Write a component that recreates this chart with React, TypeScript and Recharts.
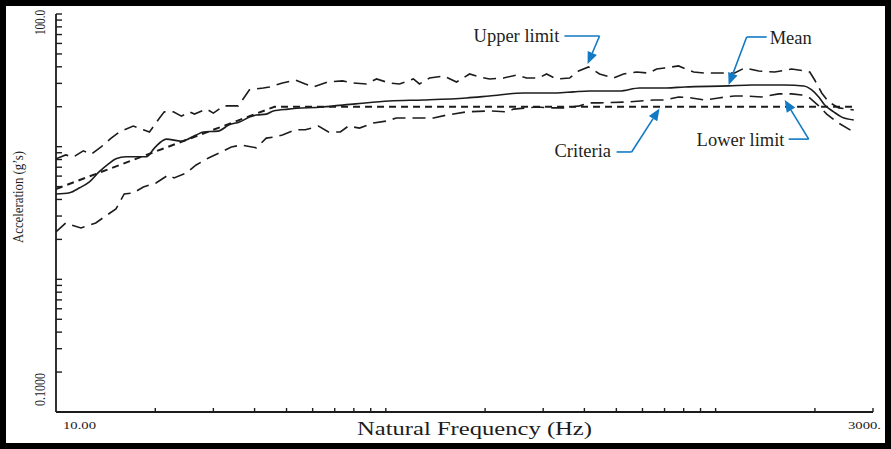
import { Line, LineChart, ReferenceDot, ReferenceLine, XAxis, YAxis } from 'recharts'

type Pt = { f: number; g: number }
const pts = (rows: number[][]): Pt[] => rows.map(([f, g]) => ({ f, g }))

// frequency (Hz), acceleration (g's)
const MEAN = pts([
  [10, 4.4], [11, 4.5], [11.8, 4.9], [12.6, 5.4], [13.5, 6.45], [14.4, 7.4], [15.2, 8.1],
  [16.3, 8.4], [18.8, 8.4], [19.9, 9.8], [21.6, 11.4], [24, 11.0], [26.6, 12.25], [28, 12.9],
  [31, 13.1], [33.5, 14.6], [36, 15.35], [38.6, 16.7], [40.5, 17.3], [43.4, 17.6], [45.6, 18.6],
  [50.6, 19.2], [64.2, 19.9], [80.9, 21.0], [102.5, 22.1], [130, 22.5], [175.6, 23.3],
  [206, 24.1], [262, 25.4], [329, 25.4], [371, 25.9], [415, 26.3], [511, 26.3], [588, 27.7],
  [710, 27.7], [805, 28.2], [1095, 28.7], [1286, 29.2], [1620, 29.2], [1849, 28.7],
  [1956, 26.8], [2054, 23.7], [2142, 20.6], [2280, 18.3], [2412, 16.7], [2623, 15.9],
])

const UPPER = pts([
  [10, 8.1], [10.7, 8.66], [11.3, 8.36], [12.1, 9.3], [12.8, 8.8], [13.7, 9.95], [14.7, 11.6],
  [15.55, 12.9], [17.15, 14.3], [18.4, 13.4], [19.2, 12.9], [20.6, 16.45], [21.3, 18.3],
  [22.7, 18.3], [24, 17.0], [25.4, 18.3], [26.3, 17.6], [28.6, 19.2], [30, 17.9], [32.2, 20.3],
  [35.7, 20.3], [38.6, 26.8], [42.5, 27.7], [44.4, 28.2], [48.6, 30.2], [53.2, 31.8],
  [57, 29.7], [60.3, 28.2], [66.5, 30.7], [73.9, 31.3], [79.2, 30.2], [87.4, 29.7],
  [93.7, 32.4], [102.5, 30.2], [110, 29.7], [121.2, 32.4], [126.5, 29.7], [135.7, 32.9],
  [149.6, 34.1], [163.8, 30.7], [179.4, 35.3], [192.3, 33.5], [206.3, 32.4], [227.4, 32.9],
  [249.1, 34.7], [267.1, 32.9], [290.4, 32.9], [307.1, 35.3], [329.3, 32.4], [360.6, 32.9],
  [384.1, 37.2], [411.8, 39.9], [444.7, 35.3], [490.4, 32.9], [525.8, 35.3], [576, 36.5],
  [626.3, 35.9], [662.3, 38.5], [700, 39.2], [772, 40.6], [857.6, 36.5], [926, 35.9],
  [1021, 35.9], [1142, 35.9], [1225, 39.2], [1351, 37.2], [1510, 36.5], [1701, 38.5],
  [1862, 37.2], [1929, 36.5], [1997, 31.8], [2097, 25.4], [2203, 21.7], [2362, 19.6],
  [2623, 18.9],
])

const LOWER = pts([
  [10, 2.28], [10.7, 2.66], [11.1, 2.57], [11.9, 2.44], [13.2, 2.66], [14, 2.95], [15.2, 3.39],
  [16.1, 4.4], [17.15, 4.48], [18.4, 4.97], [20.1, 5.32], [21.9, 6.12], [22.8, 5.81],
  [24.8, 6.33], [26.6, 7.28], [29, 8.22], [31.3, 8.97], [34, 9.95], [36.5, 10.3], [40.5, 9.8],
  [43.4, 11.6], [45.6, 11.8], [48.6, 12.25], [53.2, 13.4], [57, 13.4], [62.5, 14.3],
  [67, 12.9], [72.8, 12.9], [77, 14.3], [83.2, 13.8], [91.7, 15.1], [100.4, 15.6],
  [107.7, 16.45], [117.9, 16.45], [139.5, 16.45], [152.8, 17.3], [175.6, 18.3], [206.3, 18.6],
  [232.3, 18.3], [243.9, 19.2], [286.4, 19.9], [313.6, 19.6], [345.8, 19.6], [386.8, 20.3],
  [414.7, 21.4], [444.7, 21.4], [537, 21.7], [648.6, 22.5], [700, 22.5], [772, 23.7],
  [845.6, 23.3], [926, 22.5], [1021, 23.3], [1142, 24.1], [1225, 24.1], [1379, 23.7],
  [1553, 25.0], [1701, 25.0], [1824, 24.5], [1929, 23.3], [2054, 20.3], [2172, 17.6],
  [2329, 15.35], [2623, 12.9],
])

const CRITERIA = pts([[10, 4.8], [46, 20], [2620, 20]])

const X_TICKS = [10, 20, 30, 40, 50, 60, 70, 80, 90, 100, 200, 300, 400, 500, 600, 700, 800, 900, 1000, 2000, 3000]
const Y_TICKS = [
  0.1, 0.2, 0.3, 0.4, 0.5, 0.6, 0.7, 0.8, 0.9,
  1, 2, 3, 4, 5, 6, 7, 8, 9,
  10, 20, 30, 40, 50, 60, 70, 80, 90, 100,
]
const X_LABELS = ['10.00', '3000.']
const Y_LABELS = ['0.1000', '100.0']

// callouts: label position, horizontal leader, arrow to the curve (data coords)
const CALLOUTS = [
  { label: 'Upper limit', at: [184.5, 61.5], from: [348, 68.3], elbow: [444.7, 68.3], tip: [409, 42.0] },
  { label: 'Mean', at: [1458, 59.4], from: [1428, 67.1], elbow: [1242, 67.1], tip: [1095, 29.2] },
  { label: 'Criteria', at: [324.7, 8.36], from: [500.9, 9.12], elbow: [556.3, 9.12], tip: [676, 19.4] },
  { label: 'Lower limit', at: [875.6, 10.1], from: [1665, 11.4], elbow: [1915, 11.4], tip: [1620, 22.5] },
]

const INK = '#1c1c1c'
const BLUE = '#1279c3'
const SERIF = '"Liberation Serif", "DejaVu Serif", serif'

function XTick({ x, y, index }: any) {
  const last = index === X_TICKS.length - 1
  return (
    <g>
      {index > 0 && <line x1={x} x2={x} y1={y} y2={y - 4} stroke={INK} strokeWidth={1.4} />}
      {index === 0 && (
        <text x={x + 7} y={y + 17} fontSize={10} fontFamily={SERIF} fill={INK}
          textLength={33} lengthAdjust="spacingAndGlyphs">{X_LABELS[0]}</text>
      )}
      {last && (
        <text x={x + 8} y={y + 17} fontSize={10} fontFamily={SERIF} fill={INK} textAnchor="end"
          textLength={33} lengthAdjust="spacingAndGlyphs">{X_LABELS[1]}</text>
      )}
    </g>
  )
}

function YTick({ x, y, index }: any) {
  const first = index === 0
  const last = index === Y_TICKS.length - 1
  const tx = x - 11
  return (
    <g>
      {index > 0 && <line x1={x} x2={x + 6} y1={y} y2={y} stroke={INK} strokeWidth={1.4} />}
      {first && (
        <text x={tx} y={y - 6} fontSize={15} fontFamily={SERIF} fill={INK}
          transform={`rotate(-90, ${tx}, ${y - 6})`} textLength={33} lengthAdjust="spacingAndGlyphs">
          {Y_LABELS[0]}
        </text>
      )}
      {last && (
        <text x={tx} y={y - 4} fontSize={15} fontFamily={SERIF} fill={INK} textAnchor="end"
          transform={`rotate(-90, ${tx}, ${y - 4})`} textLength={25} lengthAdjust="spacingAndGlyphs">
          {Y_LABELS[1]}
        </text>
      )}
    </g>
  )
}

const ArrowShape = (p: any) => {
  const { x1, y1, x2, y2 } = p
  const a = Math.atan2(y2 - y1, x2 - x1)
  const len = 12
  const w = 5
  const bx = x2 - len * Math.cos(a)
  const by = y2 - len * Math.sin(a)
  const head = `${x2},${y2} ${bx + w * Math.sin(a)},${by - w * Math.cos(a)} ${bx - w * Math.sin(a)},${by + w * Math.cos(a)}`
  return (
    <g>
      <line x1={x1} y1={y1} x2={bx} y2={by} stroke={BLUE} strokeWidth={1.6} />
      <polygon points={head} fill={BLUE} />
    </g>
  )
}

const LeaderShape = (p: any) => (
  <line x1={p.x1} y1={p.y1} x2={p.x2} y2={p.y2} stroke={BLUE} strokeWidth={1.6} />
)

export default function App() {
  return (
    <div style={{ position: 'absolute', left: 0, top: 0, width: 891, height: 449, background: '#fff' }}>
      <LineChart width={891} height={449} margin={{ top: 14, right: 18, left: 0, bottom: 0 }}>
        <XAxis
          type="number"
          dataKey="f"
          scale="log"
          domain={[10, 3000]}
          ticks={X_TICKS}
          interval={0}
          allowDataOverflow
          height={37}
          tickSize={0}
          tickMargin={0}
          tickLine={false}
          axisLine={{ stroke: INK, strokeWidth: 1.8 }}
          tick={<XTick />}
          label={{
            content: ({ viewBox }: any) => (
              <text x={viewBox.x + viewBox.width / 2 + 10} y={viewBox.y + 23} textAnchor="middle"
                fontSize={18} fontFamily={SERIF} fill={INK} textLength={235} lengthAdjust="spacingAndGlyphs">
                Natural Frequency (Hz)
              </text>
            ),
          }}
        />
        <YAxis
          type="number"
          dataKey="g"
          scale="log"
          domain={[0.1, 100]}
          ticks={Y_TICKS}
          interval={0}
          allowDataOverflow
          width={56}
          tickSize={0}
          tickMargin={0}
          tickLine={false}
          axisLine={{ stroke: INK, strokeWidth: 1.8 }}
          tick={<YTick />}
          label={{
            content: ({ viewBox }: any) => {
              const tx = viewBox.x + 23
              const ty = viewBox.y + viewBox.height / 2 - 16
              return (
                <text x={tx} y={ty} textAnchor="middle" fontSize={15} fontFamily={SERIF} fill={INK}
                  transform={`rotate(-90, ${tx}, ${ty})`} textLength={92} lengthAdjust="spacingAndGlyphs">
                  Acceleration (g’s)
                </text>
              )
            },
          }}
        />
        <Line data={CRITERIA} dataKey="g" type="linear" stroke={INK} strokeWidth={2}
          strokeDasharray="7 5" dot={false} isAnimationActive={false} />
        <Line data={UPPER} dataKey="g" type="linear" stroke={INK} strokeWidth={1.6}
          strokeDasharray="13 7" dot={false} isAnimationActive={false} />
        <Line data={LOWER} dataKey="g" type="linear" stroke={INK} strokeWidth={1.6}
          strokeDasharray="13 7" dot={false} isAnimationActive={false} />
        <Line data={MEAN} dataKey="g" type="monotone" stroke={INK} strokeWidth={1.6}
          dot={false} isAnimationActive={false} />
        {CALLOUTS.map(c => (
          <ReferenceLine key={c.label + '-h'} ifOverflow="visible" shape={LeaderShape}
            segment={[{ x: c.from[0], y: c.from[1] }, { x: c.elbow[0], y: c.elbow[1] }]} />
        ))}
        {CALLOUTS.map(c => (
          <ReferenceLine key={c.label + '-a'} ifOverflow="visible" shape={ArrowShape}
            segment={[{ x: c.elbow[0], y: c.elbow[1] }, { x: c.tip[0], y: c.tip[1] }]} />
        ))}
        {CALLOUTS.map(c => (
          <ReferenceDot key={c.label} x={c.at[0]} y={c.at[1]} r={0} ifOverflow="visible"
            shape={(p: any) => (
              <text x={p.cx} y={p.cy} fontSize={18.5} fontFamily={SERIF} fill="#231f20">{c.label}</text>
            )} />
        ))}
      </LineChart>
      <div style={{ position: 'absolute', inset: 0, border: '6px solid #000', pointerEvents: 'none' }} />
    </div>
  )
}
